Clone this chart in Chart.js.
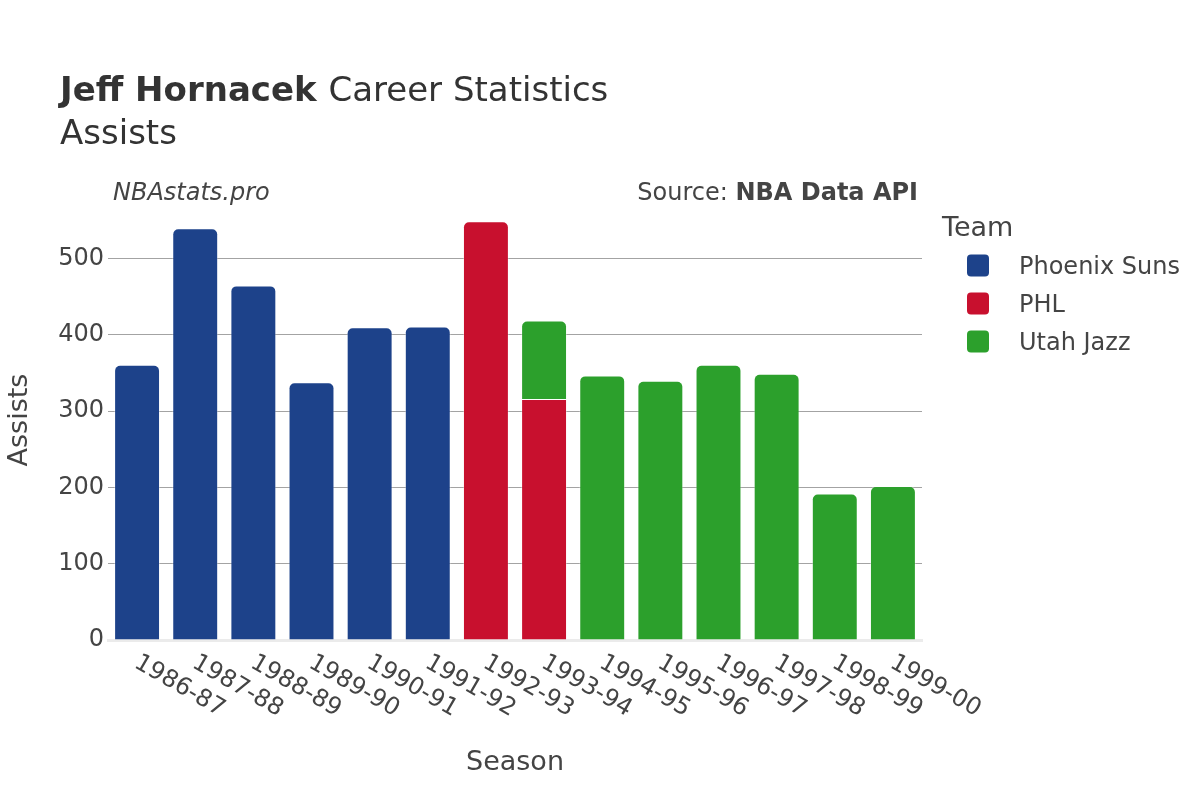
<!DOCTYPE html>
<html>
<head>
<meta charset="utf-8">
<script src="https://cdn.jsdelivr.net/npm/chart.js@4.4.1/dist/chart.umd.min.js"></script>
<style>
  html, body { margin: 0; padding: 0; background: #fff; }
  canvas { display: block; }
</style>
</head>
<body>
<canvas id="chart" width="1200" height="800"></canvas>
<script>
// data
const seasons = ['1986-87', '1987-88', '1988-89', '1989-90', '1990-91', '1991-92', '1992-93',
  '1993-94', '1994-95', '1995-96', '1996-97', '1997-98', '1998-99', '1999-00']
const phoenixSuns = [361, 540, 465, 338, 410, 411, null, null, null, null, null, null, null, null]
const phl = [null, null, null, null, null, null, 549, 316, null, null, null, null, null, null]
const utahJazz = [null, null, null, null, null, null, null, 103, 347, 340, 361, 349, 192, 202]
const teams = ['Phoenix Suns', 'PHL', 'Utah Jazz']
const teamColors = ['#1d428a', '#c8102e', '#2ca02c']
const yMax = 577
const yStep = 100

const FONT = "'DejaVu Sans', sans-serif"
const TEXT = '#444'

const decorations = {
  id: 'decorations',
  afterDraw(chart) {
    const ctx = chart.ctx
    const area = chart.chartArea
    const x = chart.scales.x
    ctx.save()

    // title
    ctx.textAlign = 'left'
    ctx.textBaseline = 'alphabetic'
    ctx.fillStyle = '#333'
    ctx.font = `bold 34px ${FONT}`
    ctx.fillText('Jeff Hornacek', 60, 101)
    const w = ctx.measureText('Jeff Hornacek ').width
    ctx.font = `34px ${FONT}`
    ctx.fillText('Career Statistics', 60 + w, 101)
    ctx.fillText('Assists', 60, 144)

    // watermark and source
    ctx.fillStyle = TEXT
    ctx.font = `italic 24px ${FONT}`
    ctx.fillText('NBAstats.pro', 113, 200)
    ctx.textAlign = 'right'
    ctx.font = `bold 24px ${FONT}`
    ctx.fillText('NBA Data API', 918, 200)
    const bw = ctx.measureText('NBA Data API').width
    ctx.font = `24px ${FONT}`
    ctx.fillText('Source: ', 918 - bw, 200)

    // axis titles
    ctx.textAlign = 'center'
    ctx.font = `27px ${FONT}`
    ctx.fillText('Season', (area.left + area.right) / 2, 770)
    ctx.save()
    ctx.translate(27, (area.top + area.bottom) / 2)
    ctx.rotate(-Math.PI / 2)
    ctx.fillText('Assists', 0, 0)
    ctx.restore()

    // x tick labels, turned 30 degrees clockwise
    ctx.textAlign = 'left'
    ctx.textBaseline = 'middle'
    ctx.font = `24px ${FONT}`
    seasons.forEach((s, i) => {
      ctx.save()
      ctx.translate(x.getPixelForTick(i) - 1, area.bottom + 21)
      ctx.rotate(Math.PI / 6)
      ctx.fillText(s, 0, 0)
      ctx.restore()
    })

    // legend
    ctx.textAlign = 'left'
    ctx.textBaseline = 'alphabetic'
    ctx.font = `27px ${FONT}`
    ctx.fillText('Team', 942, 236)
    ctx.font = `24px ${FONT}`
    chart.data.datasets.forEach((ds, i) => {
      const cy = 265.5 + i * 38
      ctx.fillStyle = ds.backgroundColor
      ctx.beginPath()
      ctx.roundRect(967, cy - 11, 22, 22, 4)
      ctx.fill()
      ctx.fillStyle = TEXT
      ctx.fillText(ds.label, 1019, cy + 8.5)
    })

    ctx.restore()
  }
}

const datasets = [phoenixSuns, phl, utahJazz].map((values, i) => ({
  label: teams[i],
  data: values,
  backgroundColor: teamColors[i],
  borderColor: 'rgba(255,255,255,0.35)',
  borderWidth: 1,
  borderRadius: 6,
  barPercentage: 0.79,
  categoryPercentage: 1
}))

new Chart(document.getElementById('chart'), {
  type: 'bar',
  data: { labels: seasons, datasets: datasets },
  options: {
    responsive: false,
    animation: false,
    devicePixelRatio: 1,
    layout: { padding: { left: 0, right: 278, top: 200, bottom: 0 } },
    plugins: {
      legend: { display: false },
      title: { display: false },
      tooltip: { enabled: false }
    },
    scales: {
      x: {
        stacked: true,
        afterFit: scale => { scale.height = 160 },
        grid: { display: false, drawTicks: false },
        border: { display: true, color: '#ebebeb', width: 3 },
        ticks: { display: false }
      },
      y: {
        stacked: true,
        min: 0,
        max: yMax,
        afterFit: scale => { scale.width = 108 },
        grid: {
          drawTicks: false,
          color: ctx => ctx.tick && ctx.tick.value === 0 ? 'rgba(0,0,0,0)' : '#a3a3a3'
        },
        border: { display: false },
        ticks: {
          stepSize: yStep,
          includeBounds: false,
          padding: 4,
          color: TEXT,
          font: { family: FONT, size: 24 }
        }
      }
    }
  },
  plugins: [decorations]
})
</script>
</body>
</html>
